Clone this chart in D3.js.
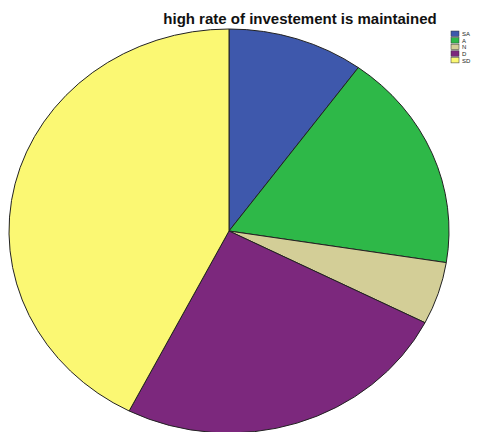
<!DOCTYPE html>
<html>
<head>
<meta charset="utf-8">
<script src="https://cdn.jsdelivr.net/npm/d3@7"></script>
<style>
  html, body { margin: 0; padding: 0; background: #fff; }
  svg { display: block; }
</style>
</head>
<body>
<svg id="chart" width="478" height="432"></svg>
<script>
// Responses to "high rate of investement is maintained"
const categories = ["SA", "A", "N", "D", "SD"];
const counts = [4, 7, 2, 10, 17];
const colors = ["#3E58AC", "#2EB848", "#D3CE97", "#7C287D", "#FBF873"];
const title = "high rate of investement is maintained";

const W = 478, H = 432;
const cx = 229, cy = 231, rx = 220, ry = 202;

const svg = d3.select("#chart");

const data = categories.map((c, i) => ({ cat: c, value: counts[i] }));

const pie = d3.pie().value(d => d.value).sort(null);
const arc = d3.arc().innerRadius(0).outerRadius(rx);

const color = d3.scaleOrdinal().domain(categories).range(colors);

// Slightly squashed pie (elliptical)
const g = svg.append("g")
  .attr("transform", `translate(${cx},${cy}) scale(1,${ry / rx})`);

g.selectAll("path")
  .data(pie(data))
  .join("path")
  .attr("d", arc)
  .attr("fill", d => color(d.data.cat))
  .attr("stroke", "#222")
  .attr("stroke-width", 1)
  .attr("vector-effect", "non-scaling-stroke");

// Title
svg.append("text")
  .attr("x", 300)
  .attr("y", 23.5)
  .attr("text-anchor", "middle")
  .attr("font-family", "Liberation Sans, Arial, sans-serif")
  .attr("font-weight", "bold")
  .attr("font-size", 15)
  .attr("fill", "#111")
  .text(title);

// Legend
const legend = svg.append("g").attr("transform", "translate(451,31)");
const rowH = 6.6;
const items = legend.selectAll("g")
  .data(categories)
  .join("g")
  .attr("transform", (d, i) => `translate(0,${i * rowH})`);

items.append("rect")
  .attr("width", 8)
  .attr("height", 5.5)
  .attr("fill", d => color(d))
  .attr("stroke", "#333")
  .attr("stroke-width", 0.5);

items.append("text")
  .attr("x", 11)
  .attr("y", 5.2)
  .attr("font-family", "Liberation Sans, Arial, sans-serif")
  .attr("font-size", 6)
  .attr("fill", "#222")
  .text(d => d);
</script>
</body>
</html>
